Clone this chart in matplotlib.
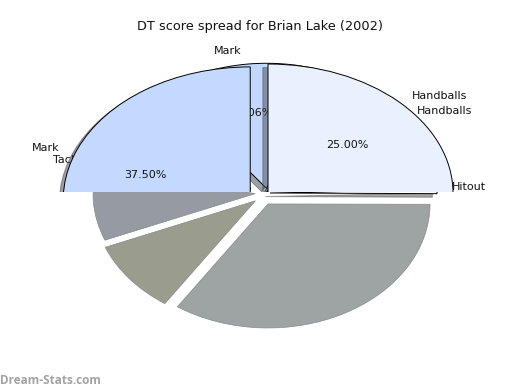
"""Brian Lake DT score spread: layered, exploded pies clipped at the midline."""

import matplotlib

matplotlib.use("Agg")
import matplotlib.patches as mpatches
import matplotlib.pyplot as plt

WIDTH, HEIGHT = 520, 390
MIDLINE = 192

TITLE = "DT score spread for Brian Lake (2002)"
WATERMARK = "Dream-Stats.com"

# dark lower part of the pie
LOWER_VALUES = [34.4, 46.16, 10.0, 9.44]
LOWER_EXPLODE = [0.1, 0.0, 0.08, 0.1]
LOWER_COLORS = ["#9EA4A3", "#959AA3", "#959AA3", "#9A9D8D"]

# pie behind the front wedges
BACK_LABELS = ["Handballs", "Mark", "Tackle", "Hitout"]
BACK_VALUES = [18.3, 17.06, 21.0, 43.64]
BACK_EXPLODE = [0.0, 0.03, 0.1, 0.0]
BACK_COLOR = "#C1D7FC"
BACK_PCT = "17.06%"

# front wedges
HANDBALL_VALUES = [25.0, 75.0]
MARK_VALUES = [37.5, 62.5]
HITOUT_VALUES = [0.5, 99.5]


def pie_axes(fig, cx, cy, rx, ry, top, bottom, zorder):
    ax = fig.add_axes([0, 1 - bottom / HEIGHT, 1, (bottom - top) / HEIGHT], zorder=zorder)
    return ax, ((0 - cx) / rx, (WIDTH - cx) / rx), ((cy - bottom) / ry, (cy - top) / ry)


def finish(ax, xlim, ylim):
    ax.set_aspect("auto")
    ax.set_xlim(*xlim)
    ax.set_ylim(*ylim)
    ax.axis("off")
    # pie turns clipping off, but here the axes edge is the midline cut
    for patch in ax.patches:
        patch.set_clip_on(True)


def show_first_only(ax, wedges):
    for wedge in wedges[1:]:
        wedge.set_visible(False)
    for patch in ax.patches:
        if isinstance(patch, mpatches.Shadow) and patch.patch in wedges[1:]:
            patch.set_visible(False)


def put_text(fig, ax, x, y, text, **kwargs):
    ax.text(x / WIDTH, 1 - y / HEIGHT, text, transform=fig.transFigure, va="center", color="#111111", **kwargs)


def main():
    fig = plt.figure(figsize=(WIDTH / 100, HEIGHT / 100), dpi=100)
    edge = {"edgecolor": "black", "linewidth": 0.7}

    ax, xlim, ylim = pie_axes(fig, 268, 193, 162, 124, MIDLINE, HEIGHT, 1)
    wedges, _ = ax.pie(LOWER_VALUES, explode=LOWER_EXPLODE, colors=LOWER_COLORS, startangle=236,
                       counterclock=True, wedgeprops={"edgecolor": "#858A8A", "linewidth": 0.5})
    wedges[0].set_center((0.0, wedges[0].center[1]))
    wedges[1].set_visible(False)
    finish(ax, xlim, ylim)

    ax, xlim, ylim = pie_axes(fig, 270, 193, 167, 128, MIDLINE, 198, 2)
    wedges, _ = ax.pie(HITOUT_VALUES, colors=["white", "white"], startangle=-0.3, shadow=True, wedgeprops=edge)
    show_first_only(ax, wedges)
    finish(ax, xlim, ylim)

    ax, xlim, ylim = pie_axes(fig, 267, 192, 167, 125, 0, MIDLINE, 3)
    ax.pie(BACK_VALUES, explode=BACK_EXPLODE, colors=[BACK_COLOR] * 4, startangle=0, shadow=True, wedgeprops=edge)
    finish(ax, xlim, ylim)
    put_text(fig, ax, 417, 111, BACK_LABELS[0], fontsize=8)
    put_text(fig, ax, 228, 51.5, BACK_LABELS[1], fontsize=8, ha="center")
    put_text(fig, ax, 53, 160, BACK_LABELS[2], fontsize=8)
    put_text(fig, ax, 452, 187, BACK_LABELS[3], fontsize=8)
    put_text(fig, ax, 252, 113, BACK_PCT, fontsize=8, ha="center")

    ax, xlim, ylim = pie_axes(fig, 268, 193, 185, 129, 0, MIDLINE, 4)
    wedges, _ = ax.pie(HANDBALL_VALUES, colors=["#E9F1FF", "#E9F1FF"], startangle=0, shadow=True, wedgeprops=edge)
    show_first_only(ax, wedges)
    finish(ax, xlim, ylim)
    put_text(fig, ax, 412, 96, "Handballs", fontsize=8)
    put_text(fig, ax, 347, 145, "25.00%", fontsize=8, ha="center")

    ax, xlim, ylim = pie_axes(fig, 267.5, 205, 187, 133, 0, MIDLINE, 5)
    wedges, _ = ax.pie(MARK_VALUES, explode=[0.1, 0.0], colors=["#C4D9FF", "#C4D9FF"], startangle=90,
                       shadow={"ox": -0.015, "oy": -0.015}, wedgeprops=edge)
    show_first_only(ax, wedges)
    finish(ax, xlim, ylim)
    put_text(fig, ax, 32, 148, "Mark", fontsize=8)
    put_text(fig, ax, 145, 175, "37.50%", fontsize=8, ha="center")

    fig.text(0.5, 1 - 26.5 / HEIGHT, TITLE, ha="center", va="center", fontsize=9.3, color="#111111", zorder=10)
    fig.text(0, 1 - 380 / HEIGHT, WATERMARK, ha="left", va="center", fontsize=8.5, color="#A3A3A3",
             family="Open Sans", fontweight="bold")
    fig.savefig("out.png", dpi=100)


if __name__ == "__main__":
    main()
